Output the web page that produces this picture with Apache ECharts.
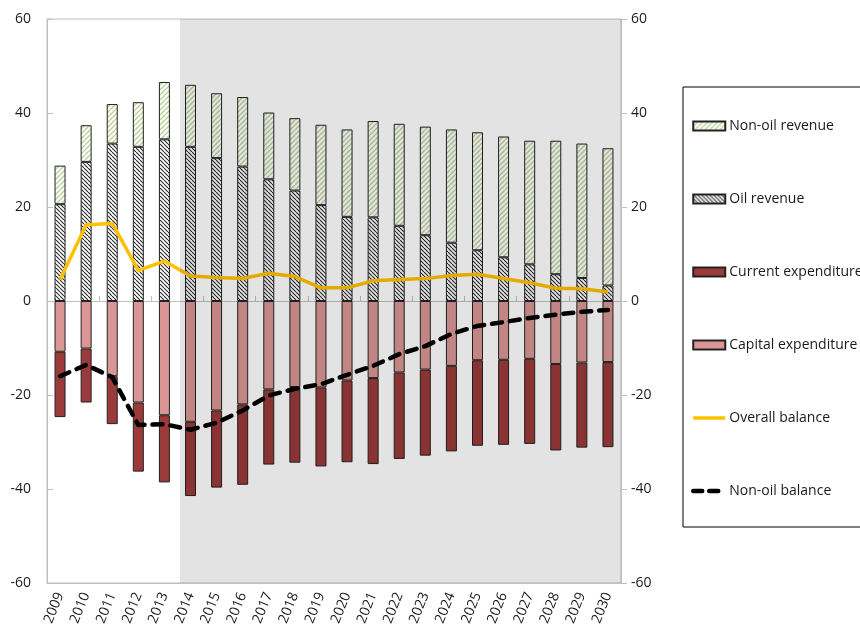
<!DOCTYPE html>
<html>
<head>
<meta charset="utf-8">
<script src="https://cdn.jsdelivr.net/npm/echarts@6/dist/echarts.min.js"></script>
<style>
html,body{margin:0;padding:0;background:#fff;}
#c{width:860px;height:632px;}
</style>
</head>
<body>
<div id="c"></div>
<script>
const years = ['2009','2010','2011','2012','2013','2014','2015','2016','2017','2018','2019','2020','2021','2022','2023','2024','2025','2026','2027','2028','2029','2030'];
const oilRevenue = [20.6,29.6,33.5,32.8,34.4,32.8,30.4,28.6,25.9,23.5,20.4,17.9,17.8,16.0,14.0,12.4,10.8,9.3,7.8,5.7,4.9,3.3];
const totalRevenue = [28.8,37.4,41.9,42.3,46.6,46.0,44.2,43.4,40.1,38.9,37.5,36.5,38.3,37.7,37.1,36.5,35.9,35.0,34.1,34.1,33.5,32.5];
const capitalExp = [-10.8,-10.1,-16.0,-21.6,-24.3,-25.7,-23.3,-22.0,-18.8,-18.3,-18.4,-16.9,-16.4,-15.2,-14.6,-13.8,-12.6,-12.5,-12.3,-13.4,-13.1,-13.0];
const totalExp = [-24.7,-21.6,-26.2,-36.3,-38.6,-41.5,-39.7,-39.1,-34.8,-34.4,-35.2,-34.3,-34.7,-33.6,-32.9,-32.0,-30.8,-30.6,-30.4,-31.8,-31.2,-31.1];
const overallBalance = [4.5,16.2,16.5,6.5,8.5,5.3,5.0,4.8,5.9,5.2,2.8,2.8,4.3,4.6,4.8,5.4,5.7,4.8,3.9,2.7,2.6,1.9];
const nonOilBalance = [-16.0,-13.6,-16.2,-26.4,-26.2,-27.4,-25.9,-23.3,-20.1,-18.7,-17.7,-15.7,-13.8,-11.3,-9.6,-7.0,-5.3,-4.5,-3.6,-2.9,-2.3,-1.9];
const yTicks = {min: -60, max: 60, interval: 20};

const nonOilRevenue = totalRevenue.map((t, i) => +(t - oilRevenue[i]).toFixed(1));
const currentExp = totalExp.map((t, i) => +(t - capitalExp[i]).toFixed(1));

function hatch(size, color, width, dir, bg) {
  const c = document.createElement('canvas');
  c.width = size; c.height = size;
  const g = c.getContext('2d');
  g.fillStyle = bg; g.fillRect(0, 0, size, size);
  g.strokeStyle = color; g.lineWidth = width;
  g.beginPath();
  if (dir === '/') {
    for (let k = -1; k <= 1; k++) {
      g.moveTo(k * size, size); g.lineTo(k * size + size, 0);
    }
  } else {
    for (let k = -1; k <= 1; k++) {
      g.moveTo(k * size, 0); g.lineTo(k * size + size, size);
    }
  }
  g.stroke();
  return {image: c, repeat: 'repeat'};
}

const oilPattern = hatch(4, '#2a2a2a', 1.1, '\\', '#ffffff');
const nonOilPattern = hatch(5, '#b9d095', 1.4, '/', '#ffffff');

const FONT = '"Open Sans", sans-serif';
const chart = echarts.init(document.getElementById('c'), null, {renderer: 'canvas'});
const axisGray = '#bfbfbf';

chart.setOption({
  animation: false,
  textStyle: {fontFamily: FONT},
  grid: {left: 47, right: 239, top: 19, bottom: 49, show: true, borderColor: axisGray, borderWidth: 1, backgroundColor: 'transparent'},
  legend: {
    orient: 'vertical',
    left: 683, top: 87,
    padding: [32, 40, 29, 8],
    itemGap: 59,
    itemWidth: 32, itemHeight: 9,
    borderColor: '#000', borderWidth: 1,
    textStyle: {fontFamily: FONT, fontSize: 14, color: '#1a1a1a', padding: [0, 0, 0, -1]},
    data: [
      {name: 'Non-oil revenue', icon: 'rect'},
      {name: 'Oil revenue', icon: 'rect'},
      {name: 'Current expenditure', icon: 'rect'},
      {name: 'Capital expenditure', icon: 'rect'},
      {name: 'Overall balance', itemStyle: {opacity: 0}, lineStyle: {width: 3.5}},
      {name: 'Non-oil balance', itemStyle: {opacity: 0}, lineStyle: {width: 4.5, type: [9, 7], cap: 'round'}}
    ]
  },
  xAxis: [
    {
      type: 'category', data: years, gridIndex: 0, position: 'bottom',
      axisLine: {onZero: false, lineStyle: {color: axisGray}},
      axisTick: {show: false},
      axisLabel: {rotate: 68, margin: 10, fontSize: 14, color: '#1a1a1a', fontFamily: FONT, interval: 0}
    },
    {
      type: 'category', data: years, gridIndex: 0, position: 'top',
      axisLine: {onZero: true, lineStyle: {color: axisGray}},
      axisTick: {show: true, inside: false, length: 5, lineStyle: {color: axisGray}},
      axisLabel: {show: false}
    },
    {type: 'value', min: 0, max: 22, show: false, gridIndex: 0}
  ],
  yAxis: [
    {
      type: 'value', min: yTicks.min, max: yTicks.max, interval: yTicks.interval, position: 'left',
      axisLine: {show: true, lineStyle: {color: axisGray}},
      axisTick: {show: true, inside: true, length: 6, lineStyle: {color: axisGray}},
      splitLine: {show: false},
      axisLabel: {fontSize: 14, color: '#1a1a1a', margin: 16, fontFamily: FONT}
    },
    {
      type: 'value', min: yTicks.min, max: yTicks.max, interval: yTicks.interval, position: 'right',
      axisLine: {show: true, lineStyle: {color: axisGray}},
      axisTick: {show: true, inside: false, length: 6, lineStyle: {color: axisGray}},
      splitLine: {show: false},
      axisLabel: {fontSize: 14, color: '#1a1a1a', margin: 10, fontFamily: FONT}
    }
  ],
  series: [
    {name: 'Oil revenue', type: 'bar', stack: 'all', barWidth: 11, data: oilRevenue,
      itemStyle: {color: oilPattern, borderColor: '#222', borderWidth: 1}},
    {name: 'Non-oil revenue', type: 'bar', stack: 'all', barWidth: 11, data: nonOilRevenue,
      itemStyle: {color: nonOilPattern, borderColor: '#222', borderWidth: 1}},
    {name: 'Capital expenditure', type: 'bar', stack: 'all', barWidth: 11, data: capitalExp,
      itemStyle: {color: '#d99694', borderColor: '#222', borderWidth: 1}},
    {name: 'Current expenditure', type: 'bar', stack: 'all', barWidth: 11, data: currentExp,
      itemStyle: {color: '#9b3a3a', borderColor: '#222', borderWidth: 1}},
    {name: 'Overall balance', type: 'line', data: overallBalance, symbol: 'none', z: 5,
      itemStyle: {color: '#ffc000'}, lineStyle: {color: '#ffc000', width: 3.5}},
    {name: 'Non-oil balance', type: 'line', data: nonOilBalance, symbol: 'none', z: 6,
      itemStyle: {color: '#000'}, lineStyle: {color: '#000', width: 4.5, type: [10, 8], cap: 'round'}},
    {name: 'shade', type: 'line', xAxisIndex: 2, data: [], z: 20, silent: true,
      markArea: {silent: true, z: 20, itemStyle: {color: 'rgba(0,0,0,0.11)'}, data: [[{xAxis: 5.1}, {xAxis: 22}]]}}
  ]
});
</script>
</body>
</html>
